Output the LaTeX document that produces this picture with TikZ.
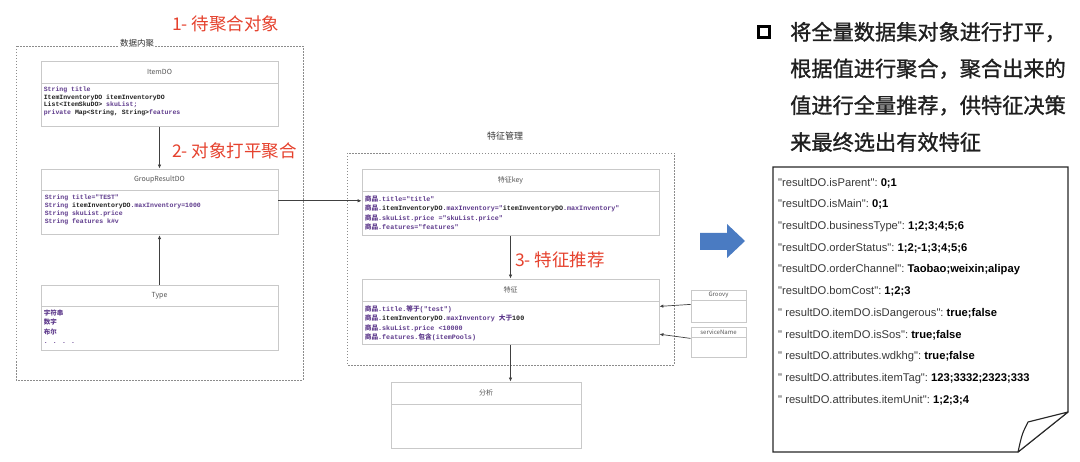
\documentclass[tikz,border=0pt]{standalone}
\usepackage{fontspec}
\setmainfont{Noto Sans CJK SC}
\newfontfamily\zh{Noto Sans CJK SC}
\newfontfamily\headfont{Noto Sans CJK SC}[FakeBold=1.2]
\newfontfamily\codefont{Liberation Mono}
\newfontfamily\docfont{Liberation Sans}
\usepackage{xcolor}
\usetikzlibrary{arrows.meta,positioning}
\definecolor{boxgray}{HTML}{C9C9C9}
\definecolor{dashgray}{HTML}{8C8C8C}
\definecolor{linegray}{HTML}{404040}
\definecolor{titlegray}{HTML}{555555}
\definecolor{codepurple}{HTML}{5E3A8C}
\definecolor{codeink}{HTML}{1E1E1E}
\definecolor{steptext}{HTML}{E5412D}
\definecolor{flatblue}{HTML}{4A7BC2}
\newcommand\kw[1]{\textcolor{codepurple}{#1}}
\tikzset{
  clshead/.style   ={draw=boxgray,line width=0.8pt,fill=white,inner sep=0pt,text=titlegray,font=\fontsize{7}{8}\selectfont},
  clsbody/.style   ={draw=boxgray,line width=0.8pt,fill=white,inner sep=0pt},
  attrs/.style     ={anchor=north west,inner sep=0pt,align=left,text=codeink,font=\codefont\bfseries\fontsize{6.5}{7.7}\selectfont},
  group/.style     ={draw=dashgray,line width=0.8pt,dash pattern=on 1.5pt off 1.5pt},
  grouplabel/.style={inner sep=1pt,text=black!80,font=\fontsize{8.5}{10}\selectfont},
  flow/.style      ={draw=linegray,line width=0.7pt,-{Latex[length=4pt,width=3.4pt]}},
  steplabel/.style ={anchor=west,inner sep=0pt,text=steptext,font=\fontsize{17.5}{20}\selectfont},
  headline/.style  ={anchor=west,inner sep=0pt,text=black!88,font=\headfont\fontsize{21.2}{24}\selectfont},
  docline/.style   ={anchor=west,inner sep=0pt,text=black!78,font=\docfont\fontsize{11.2}{13}\selectfont},
}
\begin{document}
\begin{tikzpicture}[x=1pt,y=-1pt]
  \useasboundingbox (0,0) rectangle (1080,462);

  % left group
  \draw[group] (16,46) rectangle (303,380);
  \node[grouplabel,fill=white] (agg-label) at (137,43) {数据内聚};
  \node[steplabel] (step1) at (172,24) {1- 待聚合对象};
  \node[steplabel] (step2) at (172,151) {2- 对象打平聚合};

  \node[clshead,minimum width=237pt,minimum height=22pt] (itemdo) at (159.5,72) {ItemDO};
  \node[clsbody,minimum width=237pt,minimum height=43pt,below=0pt of itemdo] (itemdo-body) {};
  \node[attrs] (itemdo-attrs) at ([xshift=3pt,yshift=-3pt]itemdo-body.north west)
    {\kw{String title}\\ItemInventoryDO itemInventoryDO\\List<ItemSkuDO> \kw{skuList;}\\\kw{private} Map<String, String>\kw{features}};

  \node[clshead,minimum width=237pt,minimum height=21pt] (grp) at (159.5,179.5) {GroupResultDO};
  \node[clsbody,minimum width=237pt,minimum height=44pt,below=0pt of grp] (grp-body) {};
  \node[attrs,font=\codefont\bfseries\fontsize{6.5}{8.2}\selectfont] (grp-attrs) at ([xshift=4pt,yshift=-4pt]grp-body.north west)
    {\kw{String title="TEST"}\\\kw{String} itemInventoryDO\kw{.maxInventory=1000}\\\kw{String skuList.price}\\\kw{String features k\#v}};

  \node[clshead,minimum width=237pt,minimum height=21pt] (type) at (159.5,295.5) {Type};
  \node[clsbody,minimum width=237pt,minimum height=44pt,below=0pt of type] (type-body) {};
  \node[attrs,font=\codefont\bfseries\fontsize{6.5}{9.4}\selectfont] (type-attrs) at ([xshift=3pt,yshift=-3pt]type-body.north west)
    {\kw{\zh 字符串}\\\kw{\zh 数字}\\\kw{\zh 布尔}\\\kw{. . . .}};

  % feature management group
  \draw[group] (347,153) rectangle (674,365);
  \node[grouplabel,font=\fontsize{9}{11}\selectfont] (mgmt-label) at (505,136) {特征管理};
  \node[steplabel] (step3) at (515,260) {3- 特征推荐};

  \node[clshead,minimum width=297pt,minimum height=22pt] (key) at (510.5,180) {特征key};
  \node[clsbody,minimum width=297pt,minimum height=44pt,below=0pt of key] (key-body) {};
  \node[attrs,font=\codefont\bfseries\fontsize{6.7}{9.4}\selectfont] (key-attrs) at ([xshift=3pt,yshift=-4pt]key-body.north west)
    {\kw{{\zh 商品}.title="title"}\\\kw{{\zh 商品}.}itemInventoryDO\kw{.maxInventory="}itemInventoryDO\kw{.maxInventory"}\\\kw{{\zh 商品}.skuList.price ="skuList.price"}\\\kw{{\zh 商品}.features="features"}};

  \node[clshead,minimum width=297pt,minimum height=22pt] (feat) at (510.5,290) {特征};
  \node[clsbody,minimum width=297pt,minimum height=43pt,below=0pt of feat] (feat-body) {};
  \node[attrs,font=\codefont\bfseries\fontsize{6.7}{9.5}\selectfont] (feat-attrs) at ([xshift=3pt,yshift=-4pt]feat-body.north west)
    {\kw{{\zh 商品}.title.{\zh 等于}("test")}\\\kw{{\zh 商品}.}itemInventoryDO\kw{.maxInventory {\zh 大于}}100\\\kw{{\zh 商品}.skuList.price <10000}\\\kw{{\zh 商品}.features.{\zh 包含}(itemPools)}};

  \node[clshead,minimum width=55pt,minimum height=10pt,font=\fontsize{6}{7}\selectfont] (groovy) at (718.5,295) {Groovy};
  \node[clsbody,minimum width=55pt,minimum height=22pt,below=0pt of groovy] (groovy-body) {};
  \node[clshead,minimum width=55pt,minimum height=10pt,font=\fontsize{6}{7}\selectfont] (svc) at (718.5,332) {serviceName};
  \node[clsbody,minimum width=55pt,minimum height=20pt,below=0pt of svc] (svc-body) {};

  \node[clshead,minimum width=190pt,minimum height=22pt] (fx) at (486,393) {分析};
  \node[clsbody,minimum width=190pt,minimum height=44pt,below=0pt of fx] (fx-body) {};

  % connectors
  \draw[flow] (itemdo-body) -- (grp);
  \draw[flow] (type) -- (grp-body);
  \draw[flow] ([yshift=12pt]grp-body.east) -- ([yshift=12pt]grp-body.east -| key-body.west);
  \draw[flow] (key-body) -- (feat);
  \draw[flow] (feat-body.south) -- (feat-body.south |- fx.north);
  \draw[flow] ([yshift=-4pt]groovy-body.north west) -- ([yshift=-5pt]feat-body.north east);
  \draw[flow] ([yshift=-1pt]svc-body.north west) -- ([yshift=11pt]feat-body.south east);

  % big arrow
  \fill[flatblue] (700,233) -- (727,233) -- (727,224) -- (745,241) -- (727,258) -- (727,250) -- (700,250) -- cycle;

  % heading
  \node[draw=black,line width=2.6pt,minimum size=11.5pt,inner sep=0pt] (bullet) at (764,32) {};
  \foreach \t [count=\i from 0] in {将全量数据集对象进行打平，,根据值进行聚合，聚合出来的,值进行全量推荐，供特征决策,来最终选出有效特征}
    \node[headline] (head-\i) at (790,32+36.7*\i) {\t};

  % result document
  \draw[line width=1.1pt,draw=black!85] (773,167) -- (1068,167) -- (1068,412) -- (1018,452) -- (773,452) -- cycle;
  \draw[line width=1.1pt,draw=black!85,fill=white,line join=round] (1068,412) -- (1028,422) .. controls (1022,434) .. (1018,452) -- cycle;
  \foreach \k/\v [count=\i from 0] in {
    {"resultDO.isParent"}/{0;1},
    {"resultDO.isMain"}/{0;1},
    {"resultDO.businessType"}/{1;2;3;4;5;6},
    {"resultDO.orderStatus"}/{1;2;-1;3;4;5;6},
    {"resultDO.orderChannel"}/{Taobao;weixin;alipay},
    {"resultDO.bomCost"}/{1;2;3},
    {" resultDO.itemDO.isDangerous"}/{true;false},
    {" resultDO.itemDO.isSos"}/{true;false},
    {" resultDO.attributes.wdkhg"}/{true;false},
    {" resultDO.attributes.itemTag"}/{123;3332;2323;333},
    {" resultDO.attributes.itemUnit"}/{1;2;3;4}}
    \node[docline] (doc-\i) at (778,183+21.7*\i) {\k:\ \textbf{\color{black}\v}};
\end{tikzpicture}
\end{document}
